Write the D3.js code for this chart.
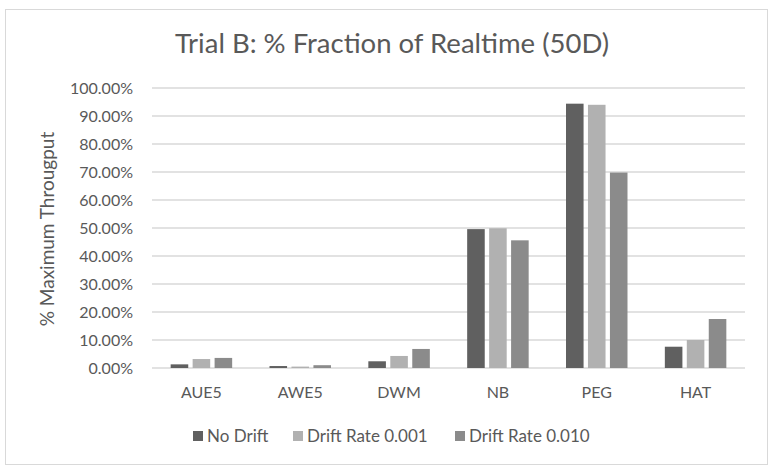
<!DOCTYPE html>
<html>
<head>
<meta charset="utf-8">
<script src="https://cdn.jsdelivr.net/npm/d3@7"></script>
<style>
  body { margin: 0; background: #fff; }
  text { font-family: Lato, "Open Sans", sans-serif; fill: #595959; }
</style>
</head>
<body>
<svg id="chart" width="774" height="468"></svg>
<script>
// chart values
var categories = ["AUE5", "AWE5", "DWM", "NB", "PEG", "HAT"]
var seriesNames = ["No Drift", "Drift Rate 0.001", "Drift Rate 0.010"]
var noDrift   = [0.013, 0.007, 0.024, 0.496, 0.944, 0.076]
var drift001  = [0.032, 0.005, 0.043, 0.499, 0.940, 0.100]
var drift010  = [0.036, 0.010, 0.068, 0.456, 0.698, 0.175]
var yTicks = [0, 0.1, 0.2, 0.3, 0.4, 0.5, 0.6, 0.7, 0.8, 0.9, 1.0]
var colours = ["#606060", "#b1b1b1", "#8b8b8b"]

var series = [noDrift, drift001, drift010]

var svg = d3.select("#chart")

// outer frame
svg.append("rect")
    .attr("x", 5.5).attr("y", 9.5)
    .attr("width", 762).attr("height", 455)
    .attr("fill", "#fff")
    .attr("stroke", "#d9d9d9")

var plotLeft = 152, plotRight = 745, plotTop = 88, plotBottom = 368

var x = d3.scaleBand().domain(categories).range([plotLeft, plotRight])
var y = d3.scaleLinear().domain([0, 1]).range([plotBottom, plotTop])

// gridlines
svg.append("g").selectAll("line")
    .data(yTicks)
    .enter().append("line")
    .attr("x1", plotLeft).attr("x2", plotRight)
    .attr("y1", function(d) { return y(d) }).attr("y2", function(d) { return y(d) })
    .attr("stroke", "#d9d9d9")
    .attr("stroke-width", 1.3)

// y axis labels
var yAxis = d3.axisLeft(y).tickValues(yTicks).tickSize(0).tickPadding(0)
    .tickFormat(function(d) { return (d * 100).toFixed(2) + "%" })
var yg = svg.append("g").attr("transform", "translate(133,0)").call(yAxis)
yg.select(".domain").remove()
yg.attr("font-family", null).attr("font-size", null)
yg.selectAll("text").attr("font-size", 16)

// x axis labels
var xAxis = d3.axisBottom(x).tickSize(0).tickPadding(0)
var xg = svg.append("g").attr("transform", "translate(0,387)").call(xAxis)
xg.select(".domain").remove()
xg.attr("font-family", null).attr("font-size", null)
xg.selectAll("text").attr("font-size", 16)

// bars
var inner = d3.scaleBand().domain([0, 1, 2]).range([0, x.bandwidth()]).paddingInner(0.2).paddingOuter(0.85)
var groups = svg.append("g").selectAll("g")
    .data(series)
    .enter().append("g")
    .attr("fill", function(d, i) { return colours[i] })

groups.each(function(vals, si) {
    d3.select(this).selectAll("rect")
        .data(vals)
        .enter().append("rect")
        .attr("x", function(d, i) { return x(categories[i]) + inner(si) })
        .attr("width", inner.bandwidth())
        .attr("y", function(d) { return y(d) })
        .attr("height", function(d) { return plotBottom - y(d) })
})

// title
svg.append("text")
    .attr("x", 392).attr("y", 53)
    .attr("text-anchor", "middle")
    .attr("font-size", 27.5)
    .text("Trial B: % Fraction of Realtime (50D)")

// y axis title
svg.append("text")
    .attr("transform", "translate(54,229) rotate(-90)")
    .attr("text-anchor", "middle")
    .attr("font-size", 19)
    .text("% Maximum Througput")

// legend
var legendX = [193, 293, 455]
var lg = svg.append("g").selectAll("g")
    .data(seriesNames)
    .enter().append("g")
    .attr("transform", function(d, i) { return "translate(" + legendX[i] + ",436)" })
lg.append("rect")
    .attr("x", 0).attr("y", -5)
    .attr("width", 10).attr("height", 10)
    .attr("fill", function(d, i) { return colours[i] })
lg.append("text")
    .attr("x", 14).attr("y", 6)
    .attr("font-size", 17)
    .text(function(d) { return d })
</script>
</body>
</html>
